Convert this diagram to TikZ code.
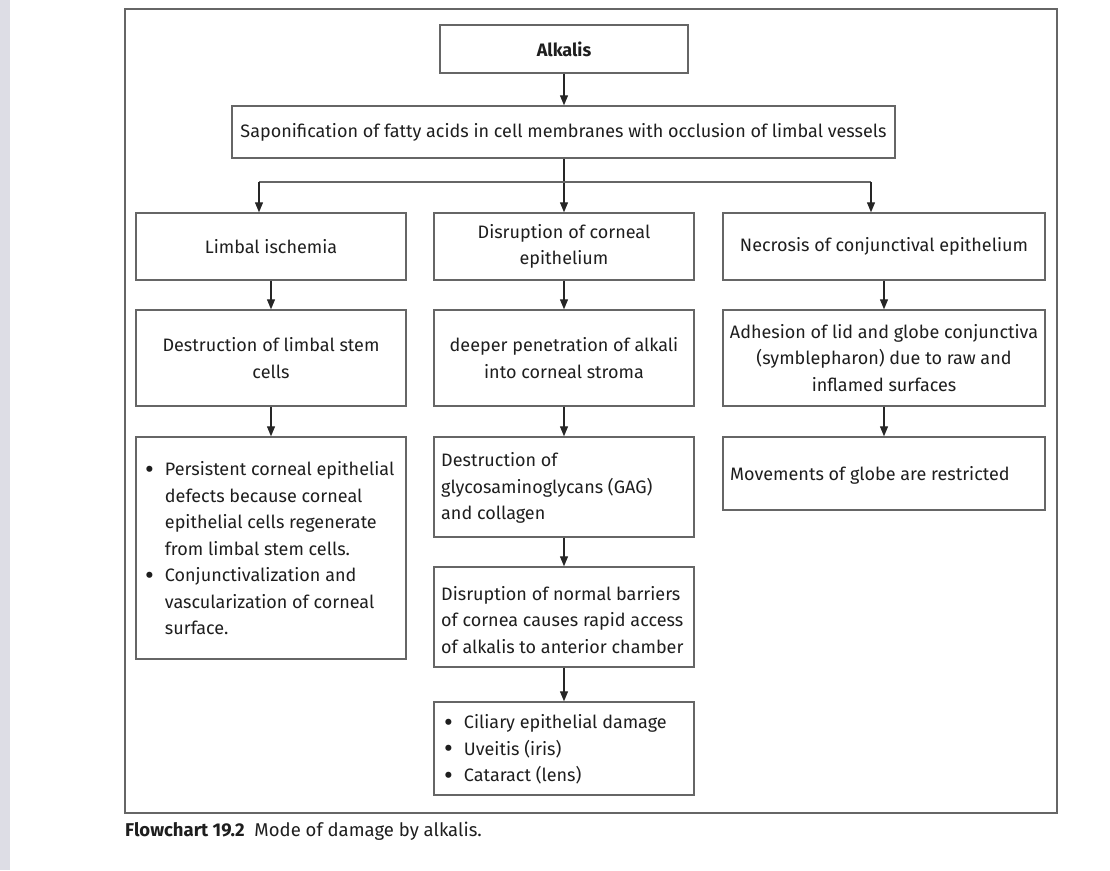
\documentclass[tikz,border=0pt]{standalone}
\usepackage{fontspec}
\setmainfont{Fira Sans}
\usetikzlibrary{arrows.meta}
\definecolor{strip}{HTML}{DDDDE5}
\definecolor{linec}{HTML}{666666}
\definecolor{txt}{HTML}{1E1E1E}
\newcommand{\bul}{\raisebox{-2.2pt}{\scalebox{1.5}{\textbullet}}}
\begin{document}
\begin{tikzpicture}[x=1pt,y=-1pt,
  box/.style={draw=linec, line width=1.4pt, inner sep=0pt, text=txt,
    font=\fontsize{18}{26.5}\selectfont, align=center},
  arr/.style={draw=black!85, line width=1.2pt, -{Triangle[length=10pt,width=8pt]}},
  lbl/.style={inner sep=0pt, text=txt, font=\fontsize{18}{26.5}\selectfont}]
\useasboundingbox (0,0) rectangle (1110,870);
\fill[strip] (0,0) rectangle (10,870);
\draw[linec, line width=1.4pt] (125,9) rectangle (1057,813);
% boxes
\node[box, minimum width=248pt, minimum height=48pt] (alk) at (564,49) {\textbf{Alkalis}};
\node[box, minimum width=663pt, minimum height=52pt] (sap) at (563.5,132) {Saponification of fatty acids in cell membranes with occlusion of limbal vessels};
\node[box, minimum width=270pt, minimum height=67pt] (li) at (271,246.5) {Limbal ischemia};
\node[box, minimum width=260pt, minimum height=67pt] (dc) at (564,246.5) {Disruption of corneal\\epithelium};
\node[box, minimum width=322pt, minimum height=67pt] (nc) at (884,246.5) {Necrosis of conjunctival epithelium};
\node[box, minimum width=270pt, minimum height=96pt] (ds) at (271,358) {Destruction of limbal stem\\cells};
\node[box, minimum width=260pt, minimum height=96pt] (dp) at (564,358) {deeper penetration of alkali\\into corneal stroma};
\node[box, minimum width=322pt, minimum height=96pt] (ad) at (884,358) {Adhesion of lid and globe conjunctiva\\(symblepharon) due to raw and\\inflamed surfaces};
\node[box, minimum width=270pt, minimum height=222pt] (pe) at (271,548) {};
\node[box, minimum width=260pt, minimum height=100pt] (dg) at (564,487) {};
\node[box, minimum width=322pt, minimum height=73pt] (mg) at (884,473.5) {};
\node[box, minimum width=260pt, minimum height=100pt] (dn) at (564,617) {};
\node[box, minimum width=260pt, minimum height=93pt] (cd) at (564,748.5) {};
% left-aligned texts
\node[lbl, anchor=west, align=left] (pet) at (145,550) {%
\begin{tabular}{@{}l@{\hspace{11pt}}l@{}}
\bul & Persistent corneal  epithelial\\
 & defects  because corneal\\
 & epithelial cells  regenerate\\
 & from  limbal stem cells.\\
\bul & Conjunctivalization  and\\
 & vascularization  of corneal\\
 & surface.
\end{tabular}};
\node[lbl, anchor=west, align=left] (dgt) at (441,488) {Destruction of\\glycosaminoglycans (GAG)\\and collagen};
\node[lbl, anchor=west, align=left] (mgt) at (730,475) {Movements of globe are restricted};
\node[lbl, anchor=west, align=left] (dnt) at (441,620) {Disruption of normal barriers\\of cornea causes rapid access\\of alkalis to anterior chamber};
\node[lbl, anchor=west, align=left] (cdt) at (444,750) {%
\begin{tabular}{@{}l@{\hspace{11pt}}l@{}}
\bul & Ciliary epithelial damage\\
\bul & Uveitis (iris)\\
\bul & Cataract (lens)
\end{tabular}};
% caption
\node[lbl, anchor=west, font=\fontsize{18.5}{22}\selectfont] (cap) at (125,831) {\textbf{Flowchart 19.2}\ \ Mode of damage by alkalis.};
% connectors
\coordinate (jl) at (259,182);
\coordinate (jr) at (871,182);
\draw[arr] (alk.south) -- (alk.south |- sap.north);
\draw[arr] (sap.south -| dc.north) -- (dc.north);
\draw[linec, line width=1.4pt] (jl) -- (jr);
\draw[arr] (jl) -- (jl |- li.north);
\draw[arr] (jr) -- (jr |- nc.north);
\draw[arr] (li.south) -- (ds.north);
\draw[arr] (dc.south) -- (dp.north);
\draw[arr] (nc.south) -- (ad.north);
\draw[arr] (ds.south) -- (pe.north);
\draw[arr] (dp.south) -- (dg.north);
\draw[arr] (ad.south) -- (mg.north);
\draw[arr] (dg.south) -- (dn.north);
\draw[arr] (dn.south) -- (cd.north);
\end{tikzpicture}
\end{document}
